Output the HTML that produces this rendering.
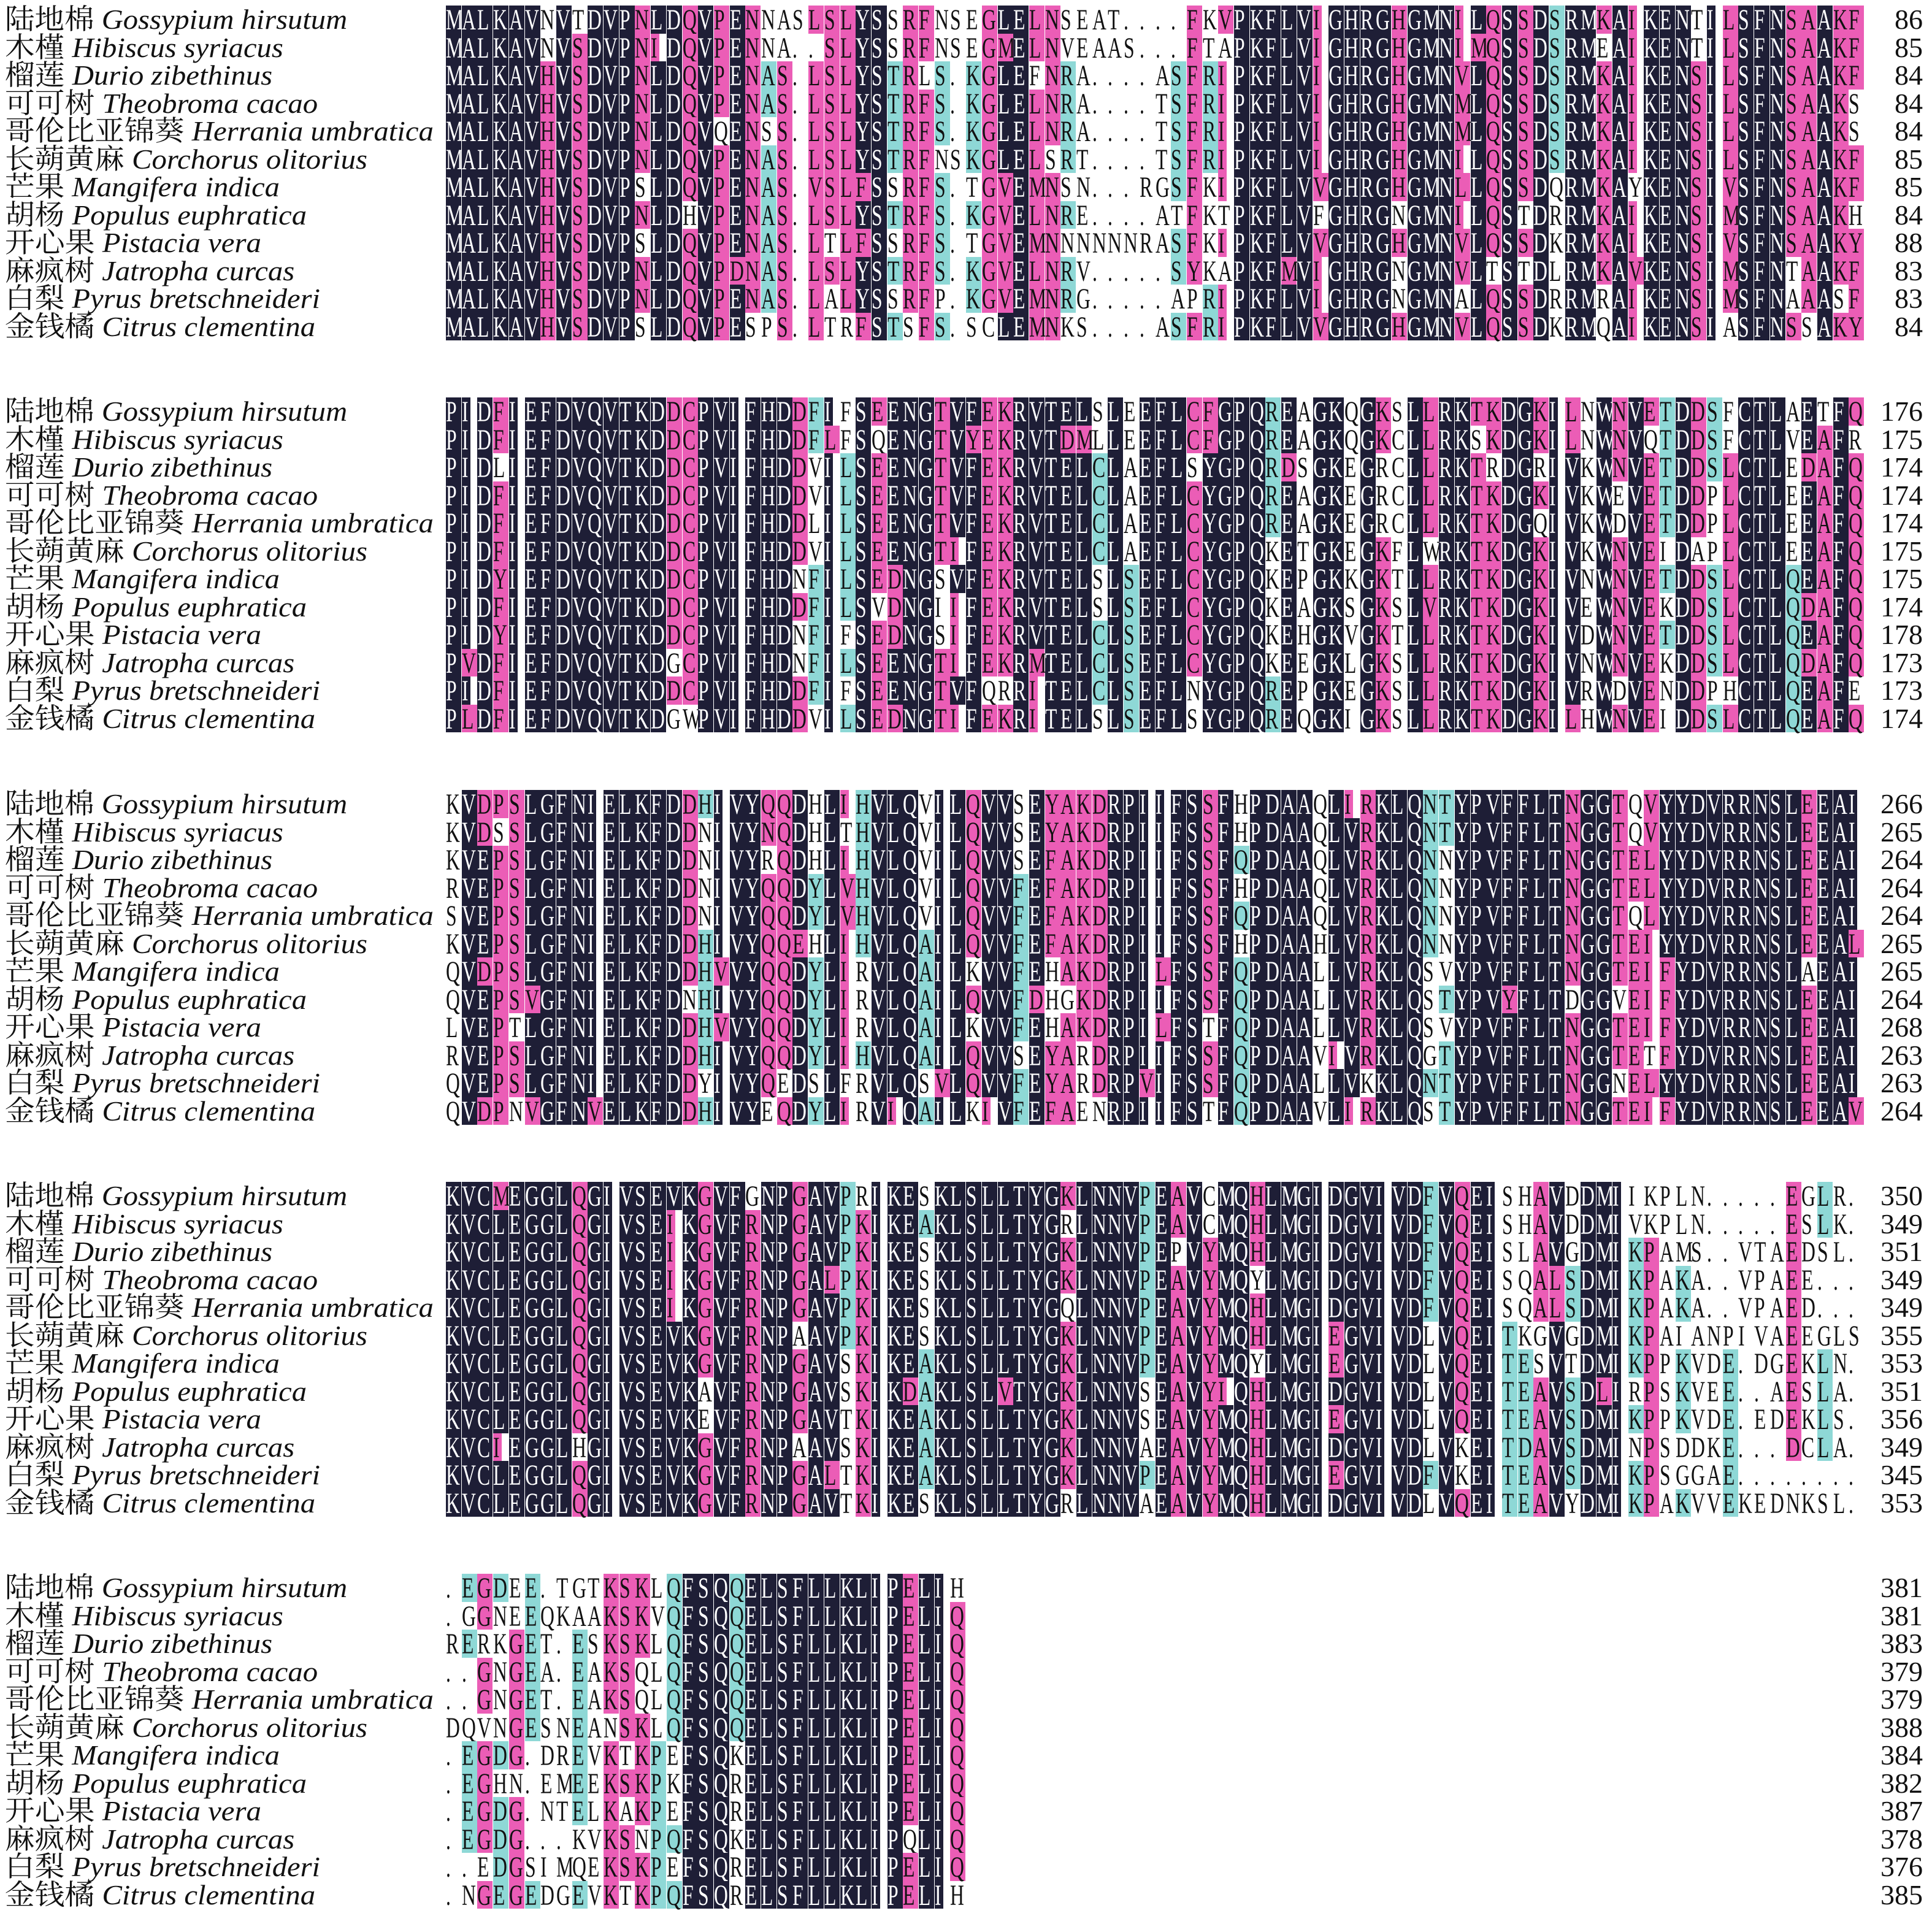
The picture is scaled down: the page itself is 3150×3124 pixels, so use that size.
<!DOCTYPE html>
<html><head><meta charset="utf-8">
<style>
html,body{margin:0;padding:0;background:#fff;}
body{width:3150px;height:3124px;position:relative;overflow:hidden;font-family:"Liberation Serif","Noto Serif CJK SC",serif;}
.blk{position:absolute;left:0;width:3150px;}
.lab{position:absolute;left:8px;top:0;}
.lab div{height:45.5px;line-height:45.5px;font-size:46px;white-space:nowrap;transform-origin:0 0;color:#111;}
.lab i{font-style:italic;}
.seqs{position:absolute;left:727px;top:0;width:2320px;}
.seqs div{position:relative;height:45.5px;line-height:45.5px;font-size:48px;white-space:pre;color:#111;}
.nums{position:absolute;right:15px;top:0;text-align:right;}
.nums div{height:45.5px;line-height:45.5px;font-size:46px;color:#111;}
.c{position:absolute;top:0;height:45.5px;}
.c b{font-weight:normal;font-family:"Liberation Serif",serif;display:inline-block;transform:scaleX(0.66);transform-origin:0 0;margin-top:1px;}
.n{background:#1e1e36;color:#fff;}
.p{background:#eb5db6;}
.y{background:#8ed8d6;}
</style></head><body>

<div class="blk" style="top:9px">
<div class="lab">
<div>陆地棉 <i>Gossypium hirsutum</i></div><div>木槿 <i>Hibiscus syriacus</i></div><div>榴莲 <i>Durio zibethinus</i></div><div>可可树 <i>Theobroma cacao</i></div><div>哥伦比亚锦葵 <i>Herrania umbratica</i></div><div>长蒴黄麻 <i>Corchorus olitorius</i></div><div>芒果 <i>Mangifera indica</i></div><div>胡杨 <i>Populus euphratica</i></div><div>开心果 <i>Pistacia vera</i></div><div>麻疯树 <i>Jatropha curcas</i></div><div>白梨 <i>Pyrus bretschneideri</i></div><div>金钱橘 <i>Citrus clementina</i></div>
</div>
<div class="seqs">
<div>MALKAVNVTDVPNLDQVPENNASLSLYSSRFNSEGLELNSEAT....FKVPKFLVIGHRGHGMNILQSSDSRMKAIKENTILSFNSAAKF</div>
<div>MALKAVNVSDVPNIDQVPENNA..SLYSSRFNSEGMELNVEAAS...FTAPKFLVIGHRGHGMNIMQSSDSRMEAIKENTILSFNSAAKF</div>
<div>MALKAVHVSDVPNLDQVPENAS.LSLYSTRLS.KGLEFNRA....ASFRIPKFLVIGHRGHGMNVLQSSDSRMKAIKENSILSFNSAAKF</div>
<div>MALKAVHVSDVPNLDQVPENAS.LSLYSTRFS.KGLELNRA....TSFRIPKFLVIGHRGHGMNMLQSSDSRMKAIKENSILSFNSAAKS</div>
<div>MALKAVHVSDVPNLDQVQENSS.LSLYSTRFS.KGLELNRA....TSFRIPKFLVIGHRGHGMNMLQSSDSRMKAIKENSILSFNSAAKS</div>
<div>MALKAVHVSDVPNLDQVPENAS.LSLYSTRFNSKGLELSRT....TSFRIPKFLVIGHRGHGMNILQSSDSRMKAIKENSILSFNSAAKF</div>
<div>MALKAVHVSDVPSLDQVPENAS.VSLFSSRFS.TGVEMNSN...RGSFKIPKFLVVGHRGHGMNLLQSSDQRMKAYKENSIVSFNSAAKF</div>
<div>MALKAVHVSDVPNLDHVPENAS.LSLYSTRFS.KGVELNRE....ATFKTPKFLVFGHRGNGMNILQSTDRRMKAIKENSIMSFNSAAKH</div>
<div>MALKAVHVSDVPSLDQVPENAS.LTLFSSRFS.TGVEMNNNNNNRASFKIPKFLVVGHRGHGMNVLQSSDKRMKAIKENSIVSFNSAAKY</div>
<div>MALKAVHVSDVPNLDQVPDNAS.LSLYSTRFS.KGVELNRV.....SYKAPKFMVIGHRGNGMNVLTSTDLRMKAVKENSIMSFNTAAKF</div>
<div>MALKAVHVSDVPNLDQVPENAS.LALYSSRFP.KGVEMNRG.....APRIPKFLVIGHRGNGMNALQSSDRRMRAIKENSIMSFNAAASF</div>
<div>MALKAVHVSDVPSLDQVPESPS.LTRFSTSFS.SCLEMNKS....ASFRIPKFLVVGHRGHGMNVLQSSDKRMQAIKENSIASFNSSAKY</div>
</div>
<div class="nums"><div>86</div><div>85</div><div>84</div><div>84</div><div>84</div><div>85</div><div>85</div><div>84</div><div>88</div><div>83</div><div>83</div><div>84</div></div>
</div>

<div class="blk" style="top:648px">
<div class="lab">
<div>陆地棉 <i>Gossypium hirsutum</i></div><div>木槿 <i>Hibiscus syriacus</i></div><div>榴莲 <i>Durio zibethinus</i></div><div>可可树 <i>Theobroma cacao</i></div><div>哥伦比亚锦葵 <i>Herrania umbratica</i></div><div>长蒴黄麻 <i>Corchorus olitorius</i></div><div>芒果 <i>Mangifera indica</i></div><div>胡杨 <i>Populus euphratica</i></div><div>开心果 <i>Pistacia vera</i></div><div>麻疯树 <i>Jatropha curcas</i></div><div>白梨 <i>Pyrus bretschneideri</i></div><div>金钱橘 <i>Citrus clementina</i></div>
</div>
<div class="seqs">
<div>PIDFIEFDVQVTKDDCPVIFHDDFIFSEENGTVFEKRVTELSLEEFLCFGPQREAGKQGKSLLRKTKDGKILNWNVETDDSFCTLAETFQ</div>
<div>PIDFIEFDVQVTKDDCPVIFHDDFLFSQENGTVYEKRVTDMLLEEFLCFGPQREAGKQGKCLLRKSKDGKILNWNVQTDDSFCTLVEAFR</div>
<div>PIDLIEFDVQVTKDDCPVIFHDDVILSEENGTVFEKRVTELCLAEFLSYGPQRDSGKEGRCLLRKTRDGRIVKWNVETDDSLCTLEDAFQ</div>
<div>PIDFIEFDVQVTKDDCPVIFHDDVILSEENGTVFEKRVTELCLAEFLCYGPQREAGKEGRCLLRKTKDGKIVKWEVETDDPLCTLEEAFQ</div>
<div>PIDFIEFDVQVTKDDCPVIFHDDLILSEENGTVFEKRVTELCLAEFLCYGPQREAGKEGRCLLRKTKDGQIVKWDVETDDPLCTLEEAFQ</div>
<div>PIDFIEFDVQVTKDDCPVIFHDDVILSEENGTIFEKRVTELCLAEFLCYGPQKETGKEGKFLWRKTKDGKIVKWNVEIDAPLCTLEEAFQ</div>
<div>PIDYIEFDVQVTKDDCPVIFHDNFILSEDNGSVFEKRVTELSLSEFLCYGPQKEPGKKGKTLLRKTKDGKIVNWNVETDDSLCTLQEAFQ</div>
<div>PIDFIEFDVQVTKDDCPVIFHDDFILSVDNGIIFEKRVTELSLSEFLCYGPQKEAGKSGKSLVRKTKDGKIVEWNVEKDDSLCTLQDAFQ</div>
<div>PIDYIEFDVQVTKDDCPVIFHDNFIFSEDNGSIFEKRVTELCLSEFLCYGPQKEHGKVGKTLLRKTKDGKIVDWNVETDDSLCTLQEAFQ</div>
<div>PVDFIEFDVQVTKDGCPVIFHDNFILSEENGTIFEKRMTELCLSEFLCYGPQKEEGKLGKSLLRKTKDGKIVNWNVEKDDSLCTLQDAFQ</div>
<div>PIDFIEFDVQVTKDDCPVIFHDDFIFSEENGTVFQRRITELCLSEFLNYGPQREPGKEGKSLLRKTKDGKIVRWDVENDDPHCTLQEAFE</div>
<div>PLDFIEFDVQVTKDGWPVIFHDDVILSEDNGTIFEKRITELSLSEFLSYGPQREQGKIGKSLLRKTKDGKILHWNVEIDDSLCTLQEAFQ</div>
</div>
<div class="nums"><div>176</div><div>175</div><div>174</div><div>174</div><div>174</div><div>175</div><div>175</div><div>174</div><div>178</div><div>173</div><div>173</div><div>174</div></div>
</div>

<div class="blk" style="top:1288px">
<div class="lab">
<div>陆地棉 <i>Gossypium hirsutum</i></div><div>木槿 <i>Hibiscus syriacus</i></div><div>榴莲 <i>Durio zibethinus</i></div><div>可可树 <i>Theobroma cacao</i></div><div>哥伦比亚锦葵 <i>Herrania umbratica</i></div><div>长蒴黄麻 <i>Corchorus olitorius</i></div><div>芒果 <i>Mangifera indica</i></div><div>胡杨 <i>Populus euphratica</i></div><div>开心果 <i>Pistacia vera</i></div><div>麻疯树 <i>Jatropha curcas</i></div><div>白梨 <i>Pyrus bretschneideri</i></div><div>金钱橘 <i>Citrus clementina</i></div>
</div>
<div class="seqs">
<div>KVDPSLGFNIELKFDDHIVYQQDHLIHVLQVILQVVSEYAKDRPIIFSSFHPDAAQLIRKLQNTYPVFFLTNGGTQVYYDVRRNSLEEAI</div>
<div>KVDSSLGFNIELKFDDNIVYNQDHLTHVLQVILQVVSEYAKDRPIIFSSFHPDAAQLVRKLQNTYPVFFLTNGGTQVYYDVRRNSLEEAI</div>
<div>KVEPSLGFNIELKFDDNIVYRQDHLIHVLQVILQVVSEFAKDRPIIFSSFQPDAAQLVRKLQNNYPVFFLTNGGTELYYDVRRNSLEEAI</div>
<div>RVEPSLGFNIELKFDDNIVYQQDYLVHVLQVILQVVFEFAKDRPIIFSSFHPDAAQLVRKLQNNYPVFFLTNGGTELYYDVRRNSLEEAI</div>
<div>SVEPSLGFNIELKFDDNIVYQQDYLVHVLQVILQVVFEFAKDRPIIFSSFQPDAAQLVRKLQNNYPVFFLTNGGTQLYYDVRRNSLEEAI</div>
<div>KVEPSLGFNIELKFDDHIVYQQEHLIHVLQAILQVVFEFAKDRPIIFSSFHPDAAHLVRKLQNNYPVFFLTNGGTEIYYDVRRNSLEEAL</div>
<div>QVDPSLGFNIELKFDDHVVYQQDYLIRVLQAILKVVFEHAKDRPILFSSFQPDAALLVRKLQSVYPVFFLTNGGTEIFYDVRRNSLAEAI</div>
<div>QVEPSVGFNIELKFDNHIVYQQDYLIRVLQAILQVVFDHGKDRPIIFSSFQPDAALLVRKLQSTYPVYFLTDGGVEIFYDVRRNSLEEAI</div>
<div>LVEPTLGFNIELKFDDHVVYQQDYLIRVLQAILKVVFEHAKDRPILFSTFQPDAALLVRKLQSVYPVFFLTNGGTEIFYDVRRNSLEEAI</div>
<div>RVEPSLGFNIELKFDDHIVYQQDYLIHVLQAILQVVSEYARDRPIIFSSFQPDAAVIVRKLQGTYPVFFLTNGGTETFYDVRRNSLEEAI</div>
<div>QVEPSLGFNIELKFDDYIVYQEDSLFRVLQSVLQVVFEYARDRPVIFSSFQPDAALLVKKLQNTYPVFFLTNGGNELYYDVRRNSLEEAI</div>
<div>QVDPNVGFNVELKFDDHIVYEQDYLIRVIQAILKIVFEFAENRPIIFSTFQPDAAVLIRKLQSTYPVFFLTNGGTEIFYDVRRNSLEEAV</div>
</div>
<div class="nums"><div>266</div><div>265</div><div>264</div><div>264</div><div>264</div><div>265</div><div>265</div><div>264</div><div>268</div><div>263</div><div>263</div><div>264</div></div>
</div>

<div class="blk" style="top:1927px">
<div class="lab">
<div>陆地棉 <i>Gossypium hirsutum</i></div><div>木槿 <i>Hibiscus syriacus</i></div><div>榴莲 <i>Durio zibethinus</i></div><div>可可树 <i>Theobroma cacao</i></div><div>哥伦比亚锦葵 <i>Herrania umbratica</i></div><div>长蒴黄麻 <i>Corchorus olitorius</i></div><div>芒果 <i>Mangifera indica</i></div><div>胡杨 <i>Populus euphratica</i></div><div>开心果 <i>Pistacia vera</i></div><div>麻疯树 <i>Jatropha curcas</i></div><div>白梨 <i>Pyrus bretschneideri</i></div><div>金钱橘 <i>Citrus clementina</i></div>
</div>
<div class="seqs">
<div>KVCMEGGLQGIVSEVKGVFGNPGAVPRIKESKLSLLTYGKLNNVPEAVCMQHLMGIDGVIVDFVQEISHAVDDMIIKPLN.....EGLR.</div>
<div>KVCLEGGLQGIVSEIKGVFRNPGAVPKIKEAKLSLLTYGRLNNVPEAVCMQHLMGIDGVIVDFVQEISHAVDDMIVKPLN.....ESLK.</div>
<div>KVCLEGGLQGIVSEIKGVFRNPGAVPKIKESKLSLLTYGKLNNVPEPVYMQHLMGIDGVIVDFVQEISLAVGDMIKPAMS..VTAEDSL.</div>
<div>KVCLEGGLQGIVSEIKGVFRNPGALPKIKESKLSLLTYGKLNNVPEAVYMQYLMGIDGVIVDFVQEISQALSDMIKPAKA..VPAEE...</div>
<div>KVCLEGGLQGIVSEIKGVFRNPGAVPKIKESKLSLLTYGQLNNVPEAVYMQHLMGIDGVIVDFVQEISQALSDMIKPAKA..VPAED...</div>
<div>KVCLEGGLQGIVSEVKGVFRNPAAVPKIKESKLSLLTYGKLNNVPEAVYMQHLMGIEGVIVDLVQEITKGVGDMIKPAIANPIVAEEGLS</div>
<div>KVCLEGGLQGIVSEVKGVFRNPGAVSKIKEAKLSLLTYGKLNNVPEAVYMQYLMGIEGVIVDLVQEITESVTDMIKPPKVDE.DGEKLN.</div>
<div>KVCLEGGLQGIVSEVKAVFRNPGAVSKIKDAKLSLVTYGKLNNVSEAVYIQHLMGIDGVIVDLVQEITEAVSDLIRPSKVEE..AESLA.</div>
<div>KVCLEGGLQGIVSEVKEVFRNPGAVTKIKEAKLSLLTYGKLNNVSEAVYMQHLMGIEGVIVDLVQEITEAVSDMIKPPKVDE.EDEKLS.</div>
<div>KVCIEGGLHGIVSEVKGVFRNPAAVSKIKEAKLSLLTYGKLNNVAEAVYMQHLMGIDGVIVDLVKEITDAVSDMINPSDDKE...DCLA.</div>
<div>KVCLEGGLQGIVSEVKGVFRNPGALTKIKEAKLSLLTYGKLNNVPEAVYMQHLMGIEGVIVDFVKEITEAVSDMIKPSGGAE........</div>
<div>KVCLEGGLQGIVSEVKGVFRNPGAVTKIKESKLSLLTYGRLNNVAEAVYMQHLMGIDGVIVDLVQEITEAVYDMIKPAKVVEKEDNKSL.</div>
</div>
<div class="nums"><div>350</div><div>349</div><div>351</div><div>349</div><div>349</div><div>355</div><div>353</div><div>351</div><div>356</div><div>349</div><div>345</div><div>353</div></div>
</div>

<div class="blk" style="top:2566px">
<div class="lab">
<div>陆地棉 <i>Gossypium hirsutum</i></div><div>木槿 <i>Hibiscus syriacus</i></div><div>榴莲 <i>Durio zibethinus</i></div><div>可可树 <i>Theobroma cacao</i></div><div>哥伦比亚锦葵 <i>Herrania umbratica</i></div><div>长蒴黄麻 <i>Corchorus olitorius</i></div><div>芒果 <i>Mangifera indica</i></div><div>胡杨 <i>Populus euphratica</i></div><div>开心果 <i>Pistacia vera</i></div><div>麻疯树 <i>Jatropha curcas</i></div><div>白梨 <i>Pyrus bretschneideri</i></div><div>金钱橘 <i>Citrus clementina</i></div>
</div>
<div class="seqs">
<div>.EGDEE.TGTKSKLQFSQQELSFLLKLIPELIH</div>
<div>.GGNEEQKAAKSKVQFSQQELSFLLKLIPELIQ</div>
<div>RERKGET.ESKSKLQFSQQELSFLLKLIPELIQ</div>
<div>..GNGEA.EAKSQLQFSQQELSFLLKLIPELIQ</div>
<div>..GNGET.EAKSQLQFSQQELSFLLKLIPELIQ</div>
<div>DQVNGESNEANSKLQFSQQELSFLLKLIPELIQ</div>
<div>.EGDG.DREVKTKPEFSQKELSFLLKLIPELIQ</div>
<div>.EGHN.EMEEKSKPKFSQRELSFLLKLIPELIQ</div>
<div>.EGDG.NTELKAKPEFSQRELSFLLKLIPELIQ</div>
<div>.EGDG...KVKSNPQFSQKELSFLLKLIPQLIQ</div>
<div>..EDGSIMQEKSKPEFSQRELSFLLKLIPELIQ</div>
<div>.NGEGEDGEVKTKPQFSQRELSFLLKLIPELIH</div>
</div>
<div class="nums"><div>381</div><div>381</div><div>383</div><div>379</div><div>379</div><div>388</div><div>384</div><div>382</div><div>387</div><div>378</div><div>376</div><div>385</div></div>
</div>

<script>
(function(){
var G={I:'a',L:'a',V:'a',M:'a',D:'b',E:'b',F:'d',Y:'d',W:'d',N:'e',Q:'e'};
function sim(a,b){return a===b||(G[a]&&G[a]===G[b]);}
var SLOT=25.7;
document.querySelectorAll('.seqs').forEach(function(s){
  var rows=[].slice.call(s.children);
  var seqs=rows.map(function(r){return r.textContent;});
  var L=Math.max.apply(null,seqs.map(function(x){return x.length;}));
  var cls=seqs.map(function(){return [];});
  for(var j=0;j<L;j++){
    var cnt={},best=null,bc=0;
    seqs.forEach(function(q){var c=q[j];if(c&&c!=='.'){cnt[c]=(cnt[c]||0)+1;if(cnt[c]>bc){bc=cnt[c];best=c;}}});
    if(!best)continue;
    var sc=0;seqs.forEach(function(q){if(q[j]&&q[j]!=='.'&&sim(q[j],best))sc++;});
    var n=seqs.length;
    seqs.forEach(function(q,i){
      var c=q[j];if(!c||c==='.')return;
      if(sc===n){cls[i][j]=(c===best)?'n':'p';}
      else if(sc>=9&&sim(c,best)){cls[i][j]='p';}
      else if(sc>=6&&sim(c,best)){cls[i][j]='y';}
    });
  }
  rows.forEach(function(r,i){
    var q=seqs[i],h='';
    for(var j=0;j<q.length;j++){
      var c=q[j],w=(c==='I')?14:25;
      h+='<span class="c '+(cls[i][j]||'')+'" style="left:'+(j*SLOT).toFixed(1)+'px;width:'+w+'px"><b>'+c+'</b></span>';
    }
    r.innerHTML=h;
  });
});
var T=[558,454,436,510,699,591,448,492,418,472,514,506];
document.querySelectorAll('.lab').forEach(function(l){
  [].slice.call(l.children).forEach(function(d,i){
    d.style.display='inline-block';
    var w=d.getBoundingClientRect().width;
    d.style.display='block';
    if(w>0)d.style.transform='scaleX('+(T[i]/w).toFixed(3)+')';
  });
});
})();
</script>
</body></html>
